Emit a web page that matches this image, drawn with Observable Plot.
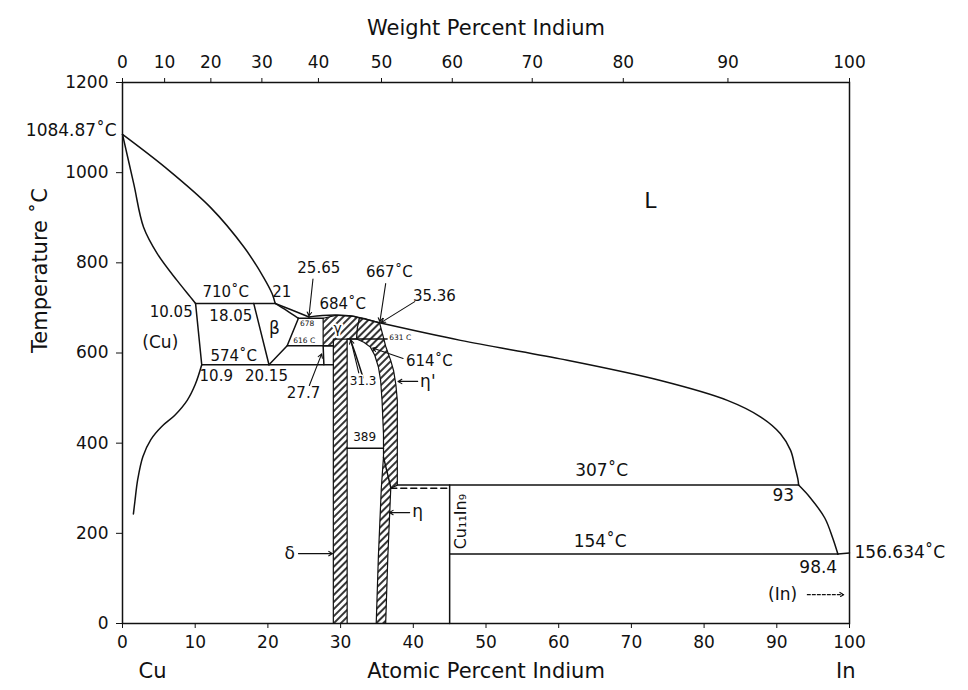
<!DOCTYPE html>
<html>
<head>
<meta charset="utf-8">
<script src="https://cdn.jsdelivr.net/npm/d3@7"></script>
<script src="https://cdn.jsdelivr.net/npm/@observablehq/plot@0.6"></script>
<style>
  html, body { margin: 0; padding: 0; background: #fff; }
</style>
</head>
<body>
<div id="chart"></div>
<script>
// Cu–In phase diagram. Compositions in atomic percent In, temperatures in °C.

// Axis ticks
const atTicks = [0, 10, 20, 30, 40, 50, 60, 70, 80, 90, 100];
const tempTicks = [0, 200, 400, 600, 800, 1000, 1200];
const wtTicks = [0, 10, 20, 30, 40, 50, 60, 70, 80, 90, 100];

// Atomic masses for the weight-percent scale along the top
const massCu = 63.546;
const massIn = 114.818;
const wtToAt = w => 100 * (w / massIn) / (w / massIn + (100 - w) / massCu);

// Smooth phase boundaries [at.% In, °C]
const liquidusCu = [[0, 1084.87], [6, 1010], [12.1, 923], [16.7, 835], [19.4, 768], [20.6, 731], [21, 710]];
const solidusCu = [[0, 1084.87], [1.55, 975], [2.9, 879], [4.8, 820], [7.5, 761], [9.35, 724], [10.05, 710]];
const solvusCu = [[10.9, 574], [10.0, 530], [8.9, 495], [7.2, 462], [5.4, 437], [3.9, 408], [2.8, 370], [2.1, 320], [1.7, 270], [1.5, 243]];
const liquidusBeta = [[21, 710], [23.2, 696], [25.65, 680]];
const solidusBeta = [[21, 710], [22.6, 694], [24.2, 677]];
const gammaDome = [[25.65, 680], [27.5, 683], [29.5, 684], [31.5, 682], [33.5, 675], [35.36, 667]];
const liquidusEta = [[35.36, 667], [46.5, 628], [60.2, 587], [74, 539], [83.2, 495], [87.8, 458], [90.5, 421], [91.9, 384], [92.5, 347], [92.9, 320], [93, 307]];
const liquidusIn = [[93, 307], [94.6, 279], [96.6, 234], [97.7, 189], [98.4, 154]];
const deltaSolvus = [[31.3, 631], [32.0, 600], [32.7, 565], [33.1, 545]];

// Straight boundaries and invariant lines
const solvusCuHigh = [[10.05, 710], [10.9, 574]];
const betaLeft = [[18.05, 710], [20.15, 574]];
const betaRight = [[20.15, 574], [22.65, 616], [24.2, 677]];
const betaGammaTop = [[24.2, 677], [27.6, 677]];
const gammaLeft = [[27.7, 574], [27.6, 616]];
const iso710 = [[10.05, 710], [21, 710]];
const iso574 = [[10.9, 574], [29.0, 574]];
const iso616 = [[22.65, 616], [29.0, 616]];
const iso631 = [[30.9, 631], [36.4, 631]];
const iso389 = [[30.9, 389], [35.9, 389]];
const iso307 = [[37.8, 307], [93, 307]];
const iso154 = [[45, 154], [98.4, 154]];
const solidusIn = [[98.4, 154], [100, 156.634]];
const cu11in9Line = [[45, 0], [45, 307]];
const etaTransition = [[35.9, 369], [36.9, 302]];
const etaOrder = [[36.9, 300], [45, 300]];

// Single-phase intermetallic fields (hatched)
const deltaField = [[29.0, 0], [29.0, 631], [30.9, 631], [30.9, 0], [29.0, 0]];
const gammaField = [[27.6, 616], [27.6, 677], [29.5, 684], [31.5, 682], [32.6, 678], [32.2, 631], [29.0, 631], [29.0, 616], [27.6, 616]];
const etaField = [
  [32.6, 678], [33.5, 675], [35.36, 667], [35.8, 640], [36.2, 615], [36.9, 583], [37.3, 560], [37.6, 530],
  [37.8, 495], [37.8, 400], [37.8, 307], [36.9, 300], [36.5, 150], [36.2, 0],
  [34.9, 0], [35.2, 150], [35.6, 300], [35.9, 370], [35.9, 420], [35.7, 495], [35.5, 540], [35.2, 569],
  [34.7, 595], [34.1, 613], [33.2, 624], [32.2, 631], [32.3, 655], [32.6, 678]
];

// Annotations
const labelsMid = [
  {text: "710˚C", x: 14.2, y: 734}, {text: "21", x: 21.9, y: 734},
  {text: "10.05", x: 6.7, y: 690}, {text: "18.05", x: 14.9, y: 681},
  {text: "574˚C", x: 15.3, y: 594}, {text: "10.9", x: 12.9, y: 548},
  {text: "20.15", x: 19.8, y: 548}, {text: "27.7", x: 24.9, y: 510},
  {text: "25.65", x: 27.0, y: 788}, {text: "667˚C", x: 36.7, y: 779},
  {text: "35.36", x: 42.9, y: 725}, {text: "684˚C", x: 30.3, y: 708},
  {text: "614˚C", x: 42.2, y: 581}
];
const labelsLarge = [
  {text: "307˚C", x: 65.9, y: 339}, {text: "154˚C", x: 65.7, y: 182},
  {text: "93", x: 90.9, y: 284}, {text: "98.4", x: 95.7, y: 124},
  {text: "(In)", x: 90.8, y: 64}, {text: "(Cu)", x: 5.2, y: 623}
];
const labelsGreek = [
  {text: "β", x: 20.9, y: 654}, {text: "η'", x: 42.0, y: 537},
  {text: "η", x: 40.6, y: 248}, {text: "δ", x: 23.0, y: 155}
];
const labelsSmall = [{text: "31.3", x: 33.1, y: 537}, {text: "389", x: 33.3, y: 413}];
const labelsTiny = [{text: "678", x: 25.4, y: 665}, {text: "616 C", x: 25.0, y: 628}, {text: "631 C", x: 38.2, y: 634}];
const pointers = [
  {x1: 26.2, y1: 764, x2: 25.65, y2: 682},
  {x1: 36.2, y1: 754, x2: 35.4, y2: 669},
  {x1: 40.2, y1: 714, x2: 35.6, y2: 668},
  {x1: 25.7, y1: 528, x2: 27.4, y2: 598},
  {x1: 32.5, y1: 556, x2: 31.4, y2: 629},
  {x1: 38.6, y1: 588, x2: 34.4, y2: 611},
  {x1: 40.6, y1: 537, x2: 37.9, y2: 537},
  {x1: 39.5, y1: 246, x2: 36.7, y2: 246},
  {x1: 24.2, y1: 155, x2: 28.9, y2: 155}
];
const pointerIn = [{x1: 94.2, y1: 64, x2: 99.2, y2: 64}];

// ---- build tables for the marks
const rows = (pts, id) => pts.map(([x, y]) => ({x, y, id}));
const smoothRows = [
  ...rows(liquidusCu, "liquidusCu"), ...rows(solidusCu, "solidusCu"), ...rows(solvusCu, "solvusCu"),
  ...rows(liquidusBeta, "liquidusBeta"), ...rows(solidusBeta, "solidusBeta"), ...rows(gammaDome, "gammaDome"),
  ...rows(liquidusEta, "liquidusEta"), ...rows(liquidusIn, "liquidusIn"), ...rows(deltaSolvus, "deltaSolvus")
];
const straightRows = [
  ...rows(solvusCuHigh, "a"), ...rows(betaLeft, "b"), ...rows(betaRight, "c"), ...rows(betaGammaTop, "d"),
  ...rows(gammaLeft, "e"), ...rows(iso710, "f"), ...rows(iso574, "g"), ...rows(iso616, "h"),
  ...rows(iso631, "i"), ...rows(iso389, "j"), ...rows(iso307, "k"), ...rows(iso154, "l"),
  ...rows(solidusIn, "m"), ...rows(cu11in9Line, "n"), ...rows(etaTransition, "o")
];
const fieldRows = [...rows(deltaField, "delta"), ...rows(gammaField, "gamma"), ...rows(etaField, "eta")];

const wtPositions = wtTicks.map(wtToAt);
const wtLabel = new Map(wtPositions.map((p, i) => [p, String(wtTicks[i])]));

const ink = "#111";
const font = "'DejaVu Sans', Verdana, sans-serif";

// hatch pattern definition
const hatchDefs = () => {
  const g = document.createElementNS("http://www.w3.org/2000/svg", "g");
  g.innerHTML = `<defs><pattern id="hatch" patternUnits="userSpaceOnUse" width="5" height="5" patternTransform="rotate(45)">
    <rect width="5" height="5" fill="white"/><line x1="1" y1="0" x2="1" y2="5" stroke="${ink}" stroke-width="1.7"/></pattern></defs>`;
  return g;
};

const chart = Plot.plot({
  width: 968,
  height: 690,
  marginLeft: 122,
  marginRight: 119,
  marginTop: 82,
  marginBottom: 67,
  style: {fontFamily: font, color: ink, background: "white", overflow: "visible"},
  x: {domain: [0, 100]},
  y: {domain: [0, 1200]},
  marks: [
    hatchDefs,
    Plot.line(fieldRows, {x: "x", y: "y", z: "id", fill: "url(#hatch)", stroke: ink, strokeWidth: 1.2, curve: "linear"}),
    Plot.line(smoothRows, {x: "x", y: "y", z: "id", stroke: ink, strokeWidth: 1.5, curve: "catmull-rom"}),
    Plot.line(straightRows, {x: "x", y: "y", z: "id", stroke: ink, strokeWidth: 1.5, curve: "linear"}),
    Plot.line(rows(etaOrder, "p"), {x: "x", y: "y", stroke: ink, strokeWidth: 1.5, strokeDasharray: "6,4"}),
    Plot.frame({stroke: ink, strokeWidth: 1.5}),
    Plot.axisX(atTicks, {anchor: "bottom", tickSize: 5, tickPadding: 7, fontSize: 17, label: null, stroke: ink, tickFormat: d => String(d)}),
    Plot.axisY(tempTicks, {anchor: "left", tickSize: 6, tickPadding: 8, fontSize: 17, label: null, stroke: ink, tickFormat: d => String(d)}),
    Plot.axisX(wtPositions, {anchor: "top", tickSize: 5, tickPadding: 10, fontSize: 17, label: null, stroke: ink, tickFormat: d => wtLabel.get(d)}),
    // axis titles
    Plot.text(["Weight Percent Indium"], {frameAnchor: "top", dy: -62, fontSize: 21, ariaLabel: "title"}),
    Plot.text(["Atomic Percent Indium"], {frameAnchor: "bottom", dy: 54, fontSize: 21, ariaLabel: "title"}),
    Plot.text(["Cu"], {frameAnchor: "bottom-left", dx: 16, dy: 54, fontSize: 21}),
    Plot.text(["In"], {frameAnchor: "bottom-right", dx: 6, dy: 54, fontSize: 21}),
    Plot.text(["Temperature ˚C"], {frameAnchor: "left", dx: -82, rotate: -90, fontSize: 21}),
    Plot.text(["1084.87˚C"], {x: 0, y: 1084.87, dx: -6, dy: -4, textAnchor: "end", fontSize: 17}),
    Plot.text(["156.634˚C"], {x: 100, y: 156.634, dx: 5, textAnchor: "start", fontSize: 17}),
    Plot.text(["L"], {x: 72.6, y: 938, fontSize: 22}),
    // field and point labels
    Plot.text(labelsMid, {x: "x", y: "y", text: "text", fontSize: 15}),
    Plot.text(labelsLarge, {x: "x", y: "y", text: "text", fontSize: 17}),
    Plot.text(labelsGreek, {x: "x", y: "y", text: "text", fontSize: 17}),
    Plot.text(labelsSmall, {x: "x", y: "y", text: "text", fontSize: 12, stroke: "white", strokeWidth: 3, fill: ink}),
    Plot.text(labelsTiny, {x: "x", y: "y", text: "text", fontSize: 7.5, stroke: "white", strokeWidth: 2, fill: ink}),
    Plot.text([{text: "γ", x: 29.6, y: 654}], {x: "x", y: "y", text: "text", fontSize: 14, stroke: "white", strokeWidth: 4, fill: ink}),
    Plot.text([{text: "Cu₁₁In₉", x: 46.5, y: 226}], {x: "x", y: "y", text: "text", rotate: -90, fontSize: 16}),
    Plot.arrow(pointers, {x1: "x1", y1: "y1", x2: "x2", y2: "y2", stroke: ink, strokeWidth: 1.1, headLength: 6}),
    Plot.arrow(pointerIn, {x1: "x1", y1: "y1", x2: "x2", y2: "y2", stroke: ink, strokeWidth: 1.1, headLength: 6, strokeDasharray: "3,2"})
  ]
});

// the axis titles are set a little wider, as in the printed figure
d3.select(chart).selectAll('g[aria-label="title"] text').attr("letter-spacing", "1.2px");

document.getElementById("chart").appendChild(chart);
</script>
</body>
</html>
